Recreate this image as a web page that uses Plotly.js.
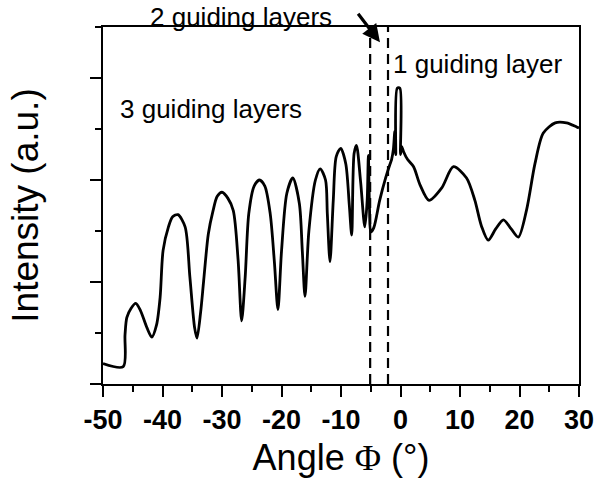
<!DOCTYPE html>
<html>
<head>
<meta charset="utf-8">
<script src="https://cdn.plot.ly/plotly-3.0.1.min.js"></script>
<style>html,body{margin:0;padding:0;background:#fff;}#chart{width:596px;height:493px;}</style>
</head>
<body>
<div id="chart"></div>
<script>
// Angle Φ (degrees) and intensity (a.u.)
var angle = [-50, -46.6, -46.3, -46.0, -45.3, -44.5, -43.7, -42.6, -41.8, -41.0, -40.4, -39.9, -39.0, -38.3, -37.4, -36.2,
  -35.4, -34.6, -34.2, -33.6, -33.1, -32.3, -31.5, -30.8, -30.0, -29.0, -28.1, -27.3, -26.7, -26.1, -25.5, -24.6, -23.7,
  -22.8, -21.9, -21.2, -20.6, -20.0, -19.1, -18.1, -17.0, -16.5, -16.05, -15.4, -14.3, -13.5, -12.6, -12.3, -11.85,
  -11.3, -10.8, -10.05, -9.2, -8.6, -8.2, -7.8, -7.4, -6.7, -6.0, -5.6, -5.4, -5.2, -5.0,
  -4.5, -3.5, -2.5, -1.8, -1.5, -1.2, -0.95, -0.8, -0.55, -0.1, 0.0, 0.2, 0.5, 1.2, 2.2, 3.3, 4.8, 6.9, 8.9, 11.1,
  12.5, 13.6, 14.75, 16.0, 17.3, 18.6, 19.8, 21.2, 22.6, 24.0, 26.0, 27.9, 29.6, 30];
var intensity = [0.20, 0.17, 0.48, 0.65, 0.74, 0.79, 0.72, 0.55, 0.46, 0.58, 0.85, 1.31, 1.54, 1.64, 1.66, 1.54,
  1.05, 0.55, 0.45, 0.70, 1.00, 1.47, 1.70, 1.84, 1.88, 1.82, 1.70, 1.22, 0.62, 1.05, 1.67, 1.94, 2.00,
  1.94, 1.67, 1.20, 0.73, 1.30, 1.87, 2.02, 1.77, 1.30, 0.86, 1.50, 2.00, 2.11, 2.00, 1.67, 1.20,
  1.80, 2.23, 2.31, 2.16, 1.75, 1.46, 2.26, 2.34, 1.98, 1.54, 1.80, 2.24, 1.70, 1.49,
  1.53, 1.80, 2.02, 2.15, 2.20, 2.30, 2.48, 2.25, 2.90, 2.90, 2.25, 2.33, 2.28, 2.20, 2.13, 1.95, 1.80, 1.92, 2.13, 2.02,
  1.80, 1.55, 1.41, 1.52, 1.61, 1.52, 1.44, 1.71, 2.16, 2.46, 2.56, 2.56, 2.52, 2.51];

// Region boundaries (dashed lines)
var boundaryAngles = [-5.1, -2.1];
var yRange = [0, 3.5];
var xTicks = [-50, -40, -30, -20, -10, 0, 10, 20, 30];

// Labels
var labels = ["3 guiding layers", "2 guiding layers", "1 guiding layer"];
var labelX = [-47.3, -42.2, -1.4];
var labelY = [0.77, 1.029, 0.897]; // paper fraction

var traces = [{
  x: angle, y: intensity, type: 'scatter', mode: 'lines',
  line: {color: '#000', width: 2.8, shape: 'spline', smoothing: 0.8},
  hoverinfo: 'skip', showlegend: false
}];
boundaryAngles.forEach(function (b) {
  traces.push({
    x: [b, b], y: yRange, type: 'scatter', mode: 'lines',
    line: {color: '#000', width: 2.2, dash: '10px,6px'},
    hoverinfo: 'skip', showlegend: false
  });
});

var fam = '"Liberation Sans", Arial, sans-serif';
var annotations = labels.map(function (t, i) {
  return {x: labelX[i], y: labelY[i], xref: 'x', yref: 'paper', text: t, showarrow: false,
    xanchor: 'left', yanchor: 'middle', borderpad: 0, font: {family: fam, size: 26, color: '#000'}};
});
annotations.push({
  x: -3.45, y: 3.35, xref: 'x', yref: 'y', text: '', showarrow: true,
  ax: -23, ay: -30, arrowhead: 2, arrowsize: 1.1, arrowwidth: 3.2, arrowcolor: '#000'
});

var layout = {
  width: 596, height: 493,
  margin: {l: 103, r: 17, t: 27, b: 109},
  paper_bgcolor: '#fff', plot_bgcolor: '#fff',
  font: {family: fam, color: '#000'},
  xaxis: {
    range: [-50, 30], tickvals: xTicks, ticktext: xTicks.map(String),
    showgrid: false, zeroline: false, showline: true, linecolor: '#000', linewidth: 2, mirror: true,
    ticks: 'outside', ticklen: 11, tickwidth: 2, tickcolor: '#000',
    minor: {dtick: 5, tick0: 0, ticks: 'outside', ticklen: 6, tickwidth: 2, tickcolor: '#000', showgrid: false},
    tickfont: {family: fam, size: 27, color: '#000', weight: 'bold'},
    title: {text: 'Angle <span style="font-family:\'Liberation Serif\', serif">Φ</span> (°)', font: {family: fam, size: 36, color: '#000'}, standoff: 10}
  },
  yaxis: {
    range: yRange, dtick: 1, tick0: 0, showticklabels: false,
    showgrid: false, zeroline: false, showline: true, linecolor: '#000', linewidth: 2, mirror: true,
    ticks: 'outside', ticklen: 11, tickwidth: 2, tickcolor: '#000',
    minor: {dtick: 0.5, tick0: 0, ticks: 'outside', ticklen: 6, tickwidth: 2, tickcolor: '#000', showgrid: false},
    title: {text: 'Intensity (a.u.)', font: {family: fam, size: 37, color: '#000'}, standoff: 40}
  },
  annotations: annotations
};

Plotly.newPlot('chart', traces, layout, {staticPlot: true});
</script>
</body>
</html>
